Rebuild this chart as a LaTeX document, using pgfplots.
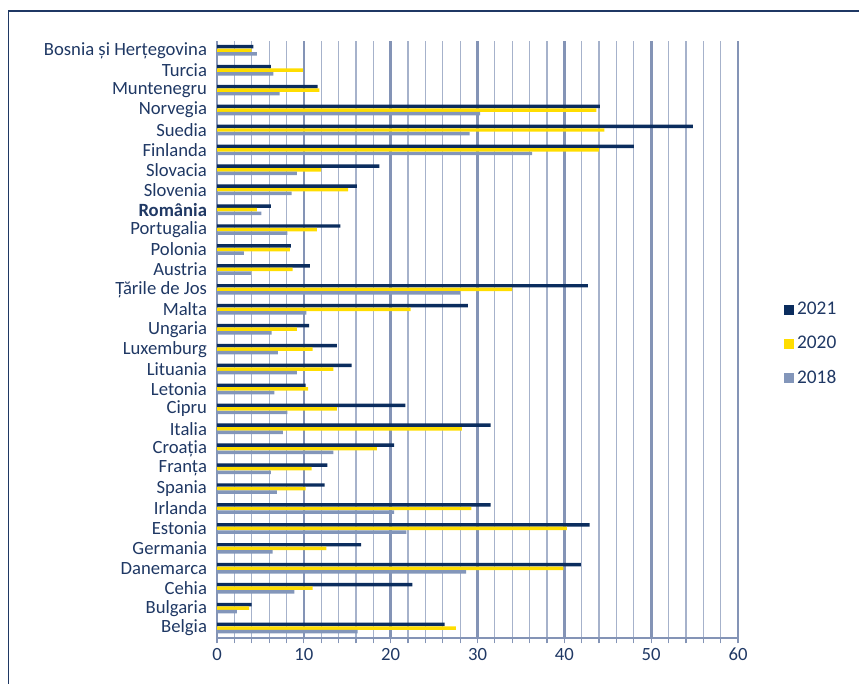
\documentclass[border=0pt]{standalone}
\usepackage{fontspec}
\setmainfont{Carlito}
\usepackage{pgfplots}
\pgfplotsset{compat=1.18}
\definecolor{cnavy}{HTML}{0B2D5E}
\definecolor{ctext}{HTML}{1F3864}
\definecolor{cyellow}{HTML}{FFDD00}
\definecolor{cgrey}{HTML}{8396BA}
\definecolor{cgridmaj}{HTML}{8494B6}
\definecolor{cgridmin}{HTML}{A6B2CB}
\begin{document}
\begin{tikzpicture}
\useasboundingbox (0,0) rectangle (644.25pt,512.25pt);
\begin{axis}[
  at={(162.75pt,33.75pt)}, anchor=south west,
  scale only axis, width=390.75pt, height=447.5pt,
  xbar, bar width=2.6pt,
  xmin=0, xmax=60, ymin=-0.5, ymax=29.45,
  xtick={0,10,...,60}, minor x tick num=4,
  ytick={0,...,29},
  yticklabels={Belgia,Bulgaria,Cehia,Danemarca,Germania,Estonia,Irlanda,Spania,Franța,Croația,Italia,Cipru,Letonia,Lituania,Luxemburg,Ungaria,Malta,Țările de Jos,Austria,Polonia,Portugalia,\textbf{România},Slovenia,Slovacia,Finlanda,Suedia,Norvegia,Muntenegru,Turcia,Bosnia și Herțegovina},
  axis x line*=bottom, axis y line*=left,
  axis line style={cgridmaj, line width=1.6pt},
  x axis line style={-, line width=1.5pt},
  y axis line style={-, line width=2.2pt},
  xmajorgrids, xminorgrids,
  major grid style={cgridmaj, line width=2pt},
  minor grid style={cgridmin, line width=0.9pt},
  tick align=outside, major tick length=4pt, minor tick length=4pt,
  xtick style={cgridmaj, line width=0.9pt},
  ytick style={draw=none},
  /pgf/number format/assume math mode=true,
  tick label style={font=\fontsize{14}{15}\selectfont, text=ctext},
  legend style={at={(1.081,0.493)}, anchor=west, draw=none, fill=none,
    font=\fontsize{14.5}{15}\selectfont, text=ctext, row sep=10.6pt},
  legend cell align=left,
  legend image code/.code={\fill[#1] (0pt,-3.75pt) rectangle (7.5pt,3.75pt);},
]
\addplot[fill=cnavy, draw=none, bar shift=2.7pt] coordinates {
(26.2,0) (4.0,1) (22.5,2) (41.9,3) (16.6,4) (42.9,5) (31.5,6) (12.4,7) (12.7,8) (20.4,9)
(31.5,10) (21.7,11) (10.2,12) (15.5,13) (13.8,14) (10.6,15) (28.9,16) (42.7,17) (10.7,18) (8.5,19)
(14.2,20) (6.2,21) (16.1,22) (18.7,23) (48.0,24) (54.8,25) (44.1,26) (11.6,27) (6.2,28) (4.2,29)};
\addplot[fill=cyellow, draw=none, bar shift=0pt] coordinates {
(27.5,0) (3.7,1) (11.0,2) (39.9,3) (12.6,4) (40.3,5) (29.3,6) (10.2,7) (10.9,8) (18.4,9)
(28.2,10) (13.8,11) (10.5,12) (13.4,13) (11.0,14) (9.2,15) (22.3,16) (34.0,17) (8.7,18) (8.4,19)
(11.5,20) (4.6,21) (15.1,22) (12.0,23) (44.0,24) (44.6,25) (43.7,26) (11.8,27) (9.9,28) (4.0,29)};
\addplot[fill=cgrey, draw=none, bar shift=-2.7pt] coordinates {
(16.2,0) (2.3,1) (8.9,2) (28.7,3) (6.4,4) (21.8,5) (20.4,6) (6.9,7) (6.2,8) (13.4,9)
(7.6,10) (8.1,11) (6.6,12) (9.2,13) (7.0,14) (6.3,15) (10.3,16) (28.0,17) (3.9,18) (3.1,19)
(8.1,20) (5.1,21) (8.6,22) (9.2,23) (36.3,24) (29.1,25) (30.3,26) (7.2,27) (6.5,28) (4.6,29)};
\legend{2021,2020,2018}
\end{axis}
\draw[ctext, line width=1.1pt] (6.2pt,-2pt) -- (6.2pt,504pt) -- (650pt,504pt);
\end{tikzpicture}
\end{document}
